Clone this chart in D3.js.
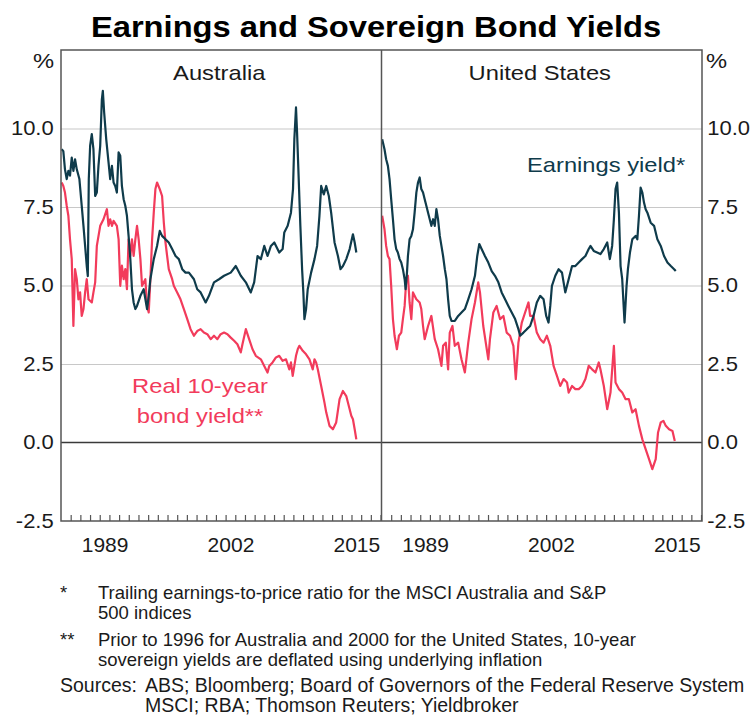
<!DOCTYPE html>
<html>
<head>
<meta charset="utf-8">
<script src="https://cdn.jsdelivr.net/npm/d3@7"></script>
<style>
  body { margin: 0; background: #fff; }
  svg text { font-family: "Liberation Sans", Arial, sans-serif; fill: #1a1a1a; }
  .note { font-family: "Liberation Sans Narrow", "Arial Narrow", "Liberation Sans", sans-serif; font-size: 18.5px; }
  .src { font-size: 19.5px; }
</style>
</head>
<body>
<div id="vis"></div>
<script>
// ---------- DATA (decimal year, per cent) ----------
const ausEarnings = [
  [1985.07, 9.34], [1985.24, 9.28], [1985.41, 8.7], [1985.59, 8.39], [1985.76, 8.65], [1985.93, 8.5],
  [1986.11, 9.07], [1986.28, 8.65], [1986.45, 9.02], [1986.63, 8.7], [1986.9, 8.39], [1987.14, 7.54],
  [1987.32, 6.9], [1987.49, 6.26], [1987.66, 5.62], [1987.77, 5.3], [1987.87, 8.39], [1988.01, 9.45],
  [1988.18, 9.82], [1988.35, 9.34], [1988.53, 7.85], [1988.7, 7.96], [1988.87, 8.81], [1989.05, 9.45],
  [1989.22, 10.93], [1989.32, 11.2], [1989.46, 10.5], [1989.67, 9.66], [1989.91, 8.92], [1990.08, 8.39],
  [1990.26, 8.81], [1990.43, 8.28], [1990.6, 8.17], [1990.77, 7.96], [1990.95, 9.24], [1991.12, 9.13],
  [1991.29, 8.17], [1991.47, 7.75], [1991.64, 7.54], [1991.81, 7.22], [1991.98, 6.58], [1992.16, 5.84],
  [1992.33, 4.88], [1992.5, 4.46], [1992.68, 4.25], [1992.85, 4.35], [1993.2, 4.67], [1993.54, 4.88],
  [1993.89, 4.25], [1994.06, 4.67], [1994.23, 5.2], [1994.58, 5.84], [1994.92, 6.26], [1995.2, 6.74],
  [1995.44, 6.58], [1995.79, 6.47], [1996.13, 6.37], [1996.48, 6.16], [1996.83, 5.94], [1997.17, 5.84],
  [1997.52, 5.52], [1997.86, 5.41], [1998.21, 5.41], [1998.73, 5.2], [1999.07, 4.88], [1999.42, 4.78],
  [1999.94, 4.46], [2000.28, 4.67], [2000.8, 5.1], [2001.32, 5.2], [2001.84, 5.31], [2002.53, 5.41],
  [2003.05, 5.62], [2003.57, 5.31], [2004.09, 5.1], [2004.6, 4.78], [2004.95, 5.1], [2005.3, 5.94],
  [2005.64, 5.84], [2005.99, 6.26], [2006.33, 5.94], [2006.68, 6.26], [2007.03, 6.37], [2007.54, 6.05],
  [2007.89, 6.16], [2008.06, 6.69], [2008.41, 6.9], [2008.75, 7.32], [2008.96, 8.07], [2009.1, 9.66],
  [2009.27, 10.67], [2009.38, 9.87], [2009.55, 8.39], [2009.72, 6.9], [2009.9, 5.52], [2010.03, 4.78],
  [2010.14, 3.93], [2010.31, 4.25], [2010.48, 4.88], [2010.83, 5.41], [2011.18, 5.84], [2011.45, 6.26],
  [2011.69, 7.22], [2011.87, 8.17], [2012.14, 7.9], [2012.39, 8.17], [2012.66, 7.85], [2012.9, 7.32],
  [2013.25, 6.37], [2013.6, 5.94], [2013.87, 5.52], [2014.12, 5.62], [2014.46, 5.84], [2014.81, 6.16],
  [2015.15, 6.63], [2015.33, 6.37], [2015.5, 6.05]
];

const ausRealYield = [
  [1985.07, 8.28], [1985.24, 8.17], [1985.41, 7.96], [1985.59, 7.54], [1985.76, 7.22], [1985.93, 6.47],
  [1986.11, 5.84], [1986.28, 3.71], [1986.45, 5.52], [1986.63, 5.2], [1986.8, 4.56], [1986.97, 4.78],
  [1987.14, 4.03], [1987.32, 4.25], [1987.49, 4.78], [1987.66, 5.2], [1987.84, 4.56], [1988.18, 4.46],
  [1988.35, 4.78], [1988.53, 5.1], [1988.7, 6.26], [1989.05, 6.9], [1989.39, 7.11], [1989.74, 7.43],
  [1989.91, 6.9], [1990.08, 7.11], [1990.26, 6.9], [1990.43, 7.06], [1990.77, 6.9], [1990.95, 6.47],
  [1991.12, 4.99], [1991.29, 5.63], [1991.47, 5.2], [1991.64, 5.52], [1991.81, 4.88], [1991.98, 6.47],
  [1992.16, 5.94], [1992.33, 6.47], [1992.5, 5.94], [1992.68, 6.47], [1992.85, 6.9], [1993.02, 6.47],
  [1993.2, 5.84], [1993.37, 4.99], [1993.71, 5.2], [1993.89, 4.35], [1994.06, 4.14], [1994.23, 5.2],
  [1994.41, 6.47], [1994.58, 7.32], [1994.75, 8.07], [1994.92, 8.28], [1995.2, 8.07], [1995.44, 7.85],
  [1995.62, 7.0], [1995.79, 6.37], [1995.96, 5.94], [1996.13, 5.52], [1996.48, 5.2], [1996.65, 4.99],
  [1997.0, 4.78], [1997.34, 4.56], [1997.69, 4.25], [1998.04, 3.93], [1998.38, 3.61], [1998.73, 3.4],
  [1999.07, 3.55], [1999.42, 3.61], [1999.76, 3.5], [2000.11, 3.45], [2000.46, 3.29], [2000.8, 3.4],
  [2001.15, 3.29], [2001.49, 3.45], [2001.84, 3.5], [2002.19, 3.45], [2002.53, 3.34], [2002.88, 3.24],
  [2003.22, 3.13], [2003.57, 2.87], [2003.74, 3.13], [2004.09, 3.61], [2004.43, 3.29], [2004.78, 2.97],
  [2005.12, 2.76], [2005.64, 2.65], [2005.99, 2.44], [2006.33, 2.23], [2006.51, 2.44], [2006.85, 2.55],
  [2007.2, 2.71], [2007.54, 2.76], [2007.89, 2.6], [2008.24, 2.65], [2008.58, 2.33], [2008.75, 2.55],
  [2008.93, 2.12], [2009.1, 2.44], [2009.27, 2.76], [2009.45, 2.97], [2009.62, 3.08], [2009.97, 2.92],
  [2010.31, 2.81], [2010.66, 2.65], [2011.0, 2.33], [2011.18, 2.65], [2011.35, 2.55], [2011.52, 2.33],
  [2011.87, 1.8], [2012.21, 1.27], [2012.39, 0.96], [2012.73, 0.53], [2013.08, 0.42], [2013.42, 0.64],
  [2013.77, 1.38], [2014.12, 1.64], [2014.46, 1.48], [2014.81, 1.06], [2014.98, 0.85], [2015.15, 0.74],
  [2015.33, 0.42], [2015.5, 0.1]
];

const usEarnings = [
  [1985.07, 9.66], [1985.31, 9.34], [1985.48, 9.02], [1985.66, 8.81], [1985.83, 8.39], [1986.0, 7.75],
  [1986.18, 7.11], [1986.35, 6.47], [1986.52, 6.16], [1986.69, 6.05], [1986.87, 5.84], [1987.04, 5.73],
  [1987.21, 5.52], [1987.39, 5.2], [1987.49, 4.88], [1987.63, 5.41], [1987.73, 5.94], [1987.9, 6.47],
  [1988.08, 6.58], [1988.25, 6.79], [1988.42, 7.32], [1988.6, 7.96], [1988.77, 8.28], [1988.94, 8.44],
  [1989.11, 8.07], [1989.29, 7.96], [1989.46, 7.75], [1989.63, 7.54], [1989.81, 7.32], [1989.98, 7.11],
  [1990.15, 6.9], [1990.33, 7.11], [1990.5, 6.9], [1990.67, 7.43], [1990.84, 7.11], [1991.02, 6.58],
  [1991.19, 6.26], [1991.36, 5.94], [1991.54, 5.52], [1991.71, 5.2], [1991.88, 4.56], [1992.05, 4.03],
  [1992.23, 3.87], [1992.57, 3.87], [1992.92, 4.03], [1993.26, 4.14], [1993.61, 4.25], [1993.96, 4.56],
  [1994.3, 4.88], [1994.65, 5.31], [1994.89, 5.94], [1995.1, 6.32], [1995.34, 6.16], [1995.68, 5.94],
  [1996.03, 5.73], [1996.38, 5.46], [1996.72, 5.31], [1997.07, 5.1], [1997.41, 4.78], [1997.76, 4.56],
  [1998.1, 4.35], [1998.45, 4.14], [1998.8, 3.93], [1999.14, 3.61], [1999.32, 3.4], [1999.66, 3.5],
  [2000.01, 3.61], [2000.35, 3.71], [2000.7, 4.03], [2001.04, 4.46], [2001.39, 4.67], [2001.74, 4.56],
  [2002.01, 4.03], [2002.25, 3.82], [2002.43, 4.35], [2002.6, 4.99], [2002.95, 5.31], [2003.29, 5.52],
  [2003.64, 5.41], [2003.98, 4.78], [2004.33, 5.2], [2004.68, 5.62], [2005.02, 5.62], [2005.37, 5.73],
  [2005.71, 5.84], [2006.06, 5.94], [2006.4, 6.16], [2006.58, 6.26], [2006.92, 6.1], [2007.27, 6.05],
  [2007.61, 6.0], [2007.96, 6.16], [2008.31, 6.37], [2008.58, 5.84], [2008.82, 6.26], [2009.0, 7.11],
  [2009.17, 8.07], [2009.34, 8.28], [2009.52, 7.32], [2009.69, 5.62], [2009.86, 5.2], [2010.1, 3.82],
  [2010.31, 4.99], [2010.45, 5.52], [2010.66, 6.05], [2010.9, 6.47], [2011.24, 6.58], [2011.42, 6.47],
  [2011.59, 7.22], [2011.76, 8.12], [2011.94, 7.96], [2012.11, 7.64], [2012.28, 7.43], [2012.46, 7.32],
  [2012.8, 7.0], [2013.15, 6.9], [2013.49, 6.47], [2013.84, 6.26], [2014.18, 5.94], [2014.53, 5.73],
  [2014.88, 5.62], [2015.22, 5.52], [2015.39, 5.46]
];

const usRealYield = [
  [1985.07, 7.22], [1985.31, 6.79], [1985.48, 6.26], [1985.66, 5.94], [1985.83, 5.84], [1986.0, 4.99],
  [1986.18, 3.93], [1986.35, 3.4], [1986.59, 2.97], [1986.8, 3.4], [1987.04, 3.5], [1987.21, 3.93],
  [1987.39, 4.35], [1987.56, 5.2], [1987.73, 5.31], [1987.9, 4.46], [1988.08, 3.93], [1988.25, 4.78],
  [1988.6, 4.56], [1988.94, 4.46], [1989.11, 4.25], [1989.29, 3.71], [1989.46, 3.29], [1989.81, 3.71],
  [1990.15, 4.03], [1990.5, 3.29], [1990.84, 2.97], [1991.19, 2.44], [1991.36, 3.08], [1991.64, 3.18],
  [1991.88, 2.33], [1992.05, 3.5], [1992.33, 3.71], [1992.57, 3.08], [1992.92, 3.18], [1993.26, 2.65],
  [1993.61, 2.23], [1993.96, 3.18], [1994.3, 3.93], [1994.65, 4.46], [1994.99, 5.1], [1995.17, 4.78],
  [1995.51, 3.71], [1996.03, 2.65], [1996.2, 3.29], [1996.55, 4.14], [1996.89, 4.35], [1997.24, 3.93],
  [1997.59, 4.03], [1997.93, 3.5], [1998.28, 3.4], [1998.62, 3.08], [1998.87, 2.02], [1999.14, 3.18],
  [1999.49, 3.82], [1999.83, 4.14], [2000.18, 4.46], [2000.35, 4.03], [2000.7, 4.03], [2001.04, 3.5],
  [2001.39, 3.29], [2001.74, 3.18], [2002.08, 3.4], [2002.43, 3.08], [2002.77, 2.44], [2003.12, 2.12],
  [2003.46, 1.8], [2003.81, 2.02], [2004.16, 1.91], [2004.33, 1.59], [2004.68, 1.8], [2005.02, 1.7],
  [2005.37, 1.7], [2005.71, 1.8], [2006.06, 2.02], [2006.4, 2.44], [2006.75, 2.33], [2007.1, 2.23],
  [2007.44, 2.55], [2007.61, 2.33], [2007.96, 1.8], [2008.31, 1.06], [2008.65, 1.59], [2009.0, 3.08],
  [2009.17, 1.91], [2009.52, 1.7], [2009.86, 1.59], [2010.21, 1.38], [2010.55, 1.38], [2010.9, 0.96],
  [2011.24, 1.06], [2011.59, 0.53], [2011.94, 0.1], [2012.28, -0.21], [2012.63, -0.53], [2012.97, -0.85],
  [2013.32, -0.53], [2013.56, 0.32], [2013.84, 0.64], [2014.11, 0.69], [2014.36, 0.53], [2014.7, 0.42],
  [2015.05, 0.37], [2015.29, 0.05]
];

const yTicks = [-2.5, 0, 2.5, 5, 7.5, 10];
const yearLabels = [1989, 2002, 2015];
const panelNames = ["Australia", "United States"];

// ---------- PAGE SETUP ----------
const FRAME_WIDTH = 752;
const FRAME_HEIGHT = 716;
const PLOT = { left: 61, top: 50, bottom: 521, panelWidth: 320.5 };
const X_DOMAIN = [1985, 2018.1];
const EARN_COLOR = "#0f3b4b";
const BOND_COLOR = "#f23b5b";
const STRETCH = 1.13; // the source lettering is a little wide

const FRAME = d3.select("#vis")
  .append("svg")
  .attr("width", FRAME_WIDTH)
  .attr("height", FRAME_HEIGHT);

const y = d3.scaleLinear().domain([-2.5, 12.5]).range([PLOT.bottom, PLOT.top]);
const plotRight = PLOT.left + 2 * PLOT.panelWidth;

// text placed with a horizontal stretch about its anchor point
function wideText(x, y, str, size, anchor, sx) {
  return FRAME.append("text")
    .attr("transform", `translate(${x},${y}) scale(${sx || STRETCH},1)`)
    .attr("text-anchor", anchor || "start")
    .attr("font-size", size)
    .text(str);
}

// title
wideText(376, 37, "Earnings and Sovereign Bond Yields", 30, "middle", 1.09)
  .attr("font-weight", "bold").style("fill", "#000");

// horizontal grid across both panels
FRAME.append("g")
  .attr("transform", `translate(${PLOT.left},0)`)
  .call(d3.axisLeft(y).tickValues([2.5, 5, 7.5, 10]).tickSize(-(plotRight - PLOT.left)).tickFormat(""))
  .call(g => g.select(".domain").remove())
  .call(g => g.selectAll("line").attr("stroke", "#c8c8c8").attr("stroke-width", 1.2));

FRAME.append("line")
  .attr("x1", PLOT.left).attr("x2", plotRight)
  .attr("y1", y(0)).attr("y2", y(0))
  .attr("stroke", "#3a3a3a").attr("stroke-width", 1.3);

// y labels both sides
const leftAxis = FRAME.append("g")
  .attr("transform", `translate(${PLOT.left - 4},0)`)
  .call(d3.axisLeft(y).tickValues(yTicks).tickSize(0).tickFormat(d => d.toFixed(1)));
const rightAxis = FRAME.append("g")
  .attr("transform", `translate(${plotRight + 2},0)`)
  .call(d3.axisRight(y).tickValues(yTicks).tickSize(0).tickFormat(d => d.toFixed(1)));
[leftAxis, rightAxis].forEach(g => {
  g.select(".domain").remove();
  g.selectAll("text").attr("font-size", 20).attr("fill", "#1a1a1a")
    .attr("font-family", "Liberation Sans, Arial, sans-serif")
    .attr("transform", "scale(1.1,1)");
});

wideText(PLOT.left - 7, 68, "%", 21, "end");
wideText(plotRight + 4, 68, "%", 21, "start");

// ---------- PANELS ----------
const panels = [
  { name: panelNames[0], earn: ausEarnings, bond: ausRealYield },
  { name: panelNames[1], earn: usEarnings, bond: usRealYield }
];

panels.forEach((p, i) => {
  const x0 = PLOT.left + i * PLOT.panelWidth;
  const x = d3.scaleLinear().domain(X_DOMAIN).range([x0, x0 + PLOT.panelWidth]);

  // yearly ticks along the bottom
  FRAME.append("g")
    .attr("transform", `translate(0,${PLOT.bottom})`)
    .call(d3.axisBottom(x).tickValues(d3.range(1986, 2019)).tickSize(-6).tickFormat(""))
    .call(g => g.select(".domain").remove())
    .call(g => g.selectAll("line").attr("stroke", "#555").attr("stroke-width", 1.2));

  // year labels centred on the year
  FRAME.append("g")
    .attr("transform", `translate(0,${PLOT.bottom})`)
    .call(d3.axisBottom(x).tickValues(yearLabels.map(d => d + 0.5)).tickSize(0).tickPadding(16)
      .tickFormat(d => Math.floor(d)))
    .call(g => g.select(".domain").remove())
    .call(g => g.selectAll("text").attr("font-size", 21).attr("fill", "#1a1a1a")
      .attr("font-family", "Liberation Sans, Arial, sans-serif"));

  const line = d3.line().x(d => x(d[0])).y(d => y(d[1]));

  FRAME.append("path").datum(p.bond)
    .attr("d", line).attr("fill", "none")
    .attr("stroke", BOND_COLOR).attr("stroke-width", 2.2).attr("stroke-linejoin", "round");
  FRAME.append("path").datum(p.earn)
    .attr("d", line).attr("fill", "none")
    .attr("stroke", EARN_COLOR).attr("stroke-width", 2.2).attr("stroke-linejoin", "round");

  wideText(x0 + PLOT.panelWidth / 2 - 2, 80, p.name, 21, "middle");
});

// frame and divider
FRAME.append("rect")
  .attr("x", PLOT.left).attr("y", PLOT.top)
  .attr("width", plotRight - PLOT.left).attr("height", PLOT.bottom - PLOT.top)
  .attr("fill", "none").attr("stroke", "#555").attr("stroke-width", 1.5);
FRAME.append("line")
  .attr("x1", PLOT.left + PLOT.panelWidth).attr("x2", PLOT.left + PLOT.panelWidth)
  .attr("y1", PLOT.top).attr("y2", PLOT.bottom)
  .attr("stroke", "#555").attr("stroke-width", 1.5);

// series labels
wideText(527, 172, "Earnings yield*", 21, "start").style("fill", EARN_COLOR);
wideText(200, 393, "Real 10-year", 21, "middle").style("fill", BOND_COLOR);
wideText(200, 423, "bond yield**", 21, "middle").style("fill", BOND_COLOR);

// ---------- NOTES ----------
const notes = [
  { x: 60, y: 599, t: "*", c: "note" },
  { x: 98, y: 599, t: "Trailing earnings-to-price ratio for the MSCI Australia and S&P", c: "note" },
  { x: 98, y: 619, t: "500 indices", c: "note" },
  { x: 60, y: 646, t: "**", c: "note" },
  { x: 98, y: 646, t: "Prior to 1996 for Australia and 2000 for the United States, 10-year", c: "note" },
  { x: 98, y: 666, t: "sovereign yields are deflated using underlying inflation", c: "note" },
  { x: 60, y: 692, t: "Sources:", c: "note src" },
  { x: 145, y: 692, t: "ABS; Bloomberg; Board of Governors of the Federal Reserve System", c: "note src" },
  { x: 145, y: 712, t: "MSCI; RBA; Thomson Reuters; Yieldbroker", c: "note src" }
];
FRAME.append("g").selectAll("text")
  .data(notes).enter().append("text")
  .attr("class", d => d.c)
  .attr("x", d => d.x).attr("y", d => d.y)
  .text(d => d.t);
</script>
</body>
</html>
